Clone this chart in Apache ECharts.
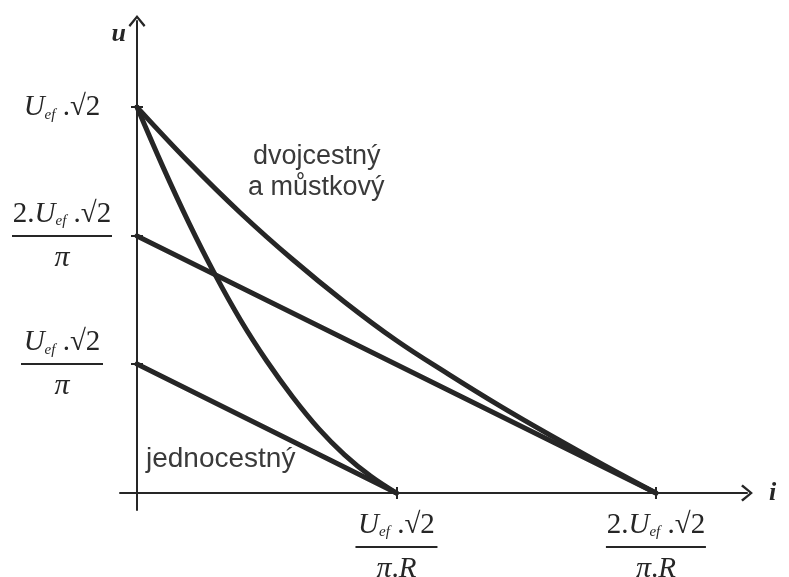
<!DOCTYPE html>
<html><head><meta charset="utf-8">
<script src="https://cdn.jsdelivr.net/npm/echarts@6/dist/echarts.min.js"></script>
<style>html,body{margin:0;padding:0;background:#fff}#c{width:789px;height:577px}</style>
</head><body><div id="c"></div>
<script>
// tick positions (in units of U_ef*sqrt2 and U_ef*sqrt2/(pi*R), as drawn)
const yTickValues = [1, 0.666, 0.334];
const yTickLabels = [
  '{i|U}{s|ef}{r| .√2}',
  '{r|2.}{i|U}{s|ef}{r| .√2}\n{barA| }\n{p|π}',
  '{i|U}{s|ef}{r| .√2}\n{barB| }\n{p|π}'
];
const xTickValues = [1, 2];
const xTickLabels = [
  '{i|U}{s|ef}{r| .√2}\n{barB| }\n{p|π}{r|.}{i|R}',
  '{r|2.}{i|U}{s|ef}{r| .√2}\n{barA| }\n{p|π}{r|.}{i|R}'
];
// single-phase (jednocestný): straight load line and curve
const halfLine = [[0, 0.334], [1, 0]];
const halfCurveX = [0, 0.1, 0.2, 0.3, 0.4, 0.5, 0.6, 0.7, 0.8, 0.9, 1.0];
const halfCurveY = [1, 0.845, 0.700, 0.567, 0.447, 0.342, 0.249, 0.167, 0.099, 0.044, 0];
// full-wave / bridge (dvojcestný a můstkový)
const fullLine = [[0, 0.666], [2, 0]];
const fullCurveX = [0, 0.2, 0.4, 0.6, 0.8, 1.0, 1.2, 1.4, 1.6, 1.8, 2.0];
const fullCurveY = [1, 0.857, 0.725, 0.605, 0.495, 0.395, 0.308, 0.225, 0.147, 0.072, 0];

const INK = '#262626';
const serif = 'Liberation Serif';
const rich = {
  i: {fontFamily: serif, fontStyle: 'italic', fontSize: 29, lineHeight: 30, color: INK},
  r: {fontFamily: serif, fontSize: 29, lineHeight: 30, color: INK},
  p: {fontFamily: serif, fontStyle: 'italic', fontSize: 30, lineHeight: 30, color: INK},
  s: {fontFamily: serif, fontStyle: 'italic', fontSize: 15, lineHeight: 8, verticalAlign: 'bottom', color: INK},
  barA: {width: 100, height: 2, lineHeight: 14, backgroundColor: INK, fontSize: 2},
  barB: {width: 82, height: 2, lineHeight: 14, backgroundColor: INK, fontSize: 2}
};
const arrow = 'path://M10,0 L20,12 L18,14 L10,4 L2,14 L0,12 Z';
const axisLineStyle = {color: INK, width: 2};
const hidden = {show: false};

const chart = echarts.init(document.getElementById('c'));
chart.setOption({
  backgroundColor: '#ffffff',
  animation: false,
  grid: {left: 120, right: 42, top: 21, bottom: 67, containLabel: false, outerBoundsMode: 'none'},
  xAxis: [{
    type: 'value', min: -0.0655, max: 2.351, position: 'bottom',
    splitLine: hidden,
    axisLine: {onZero: true, lineStyle: axisLineStyle, symbol: ['none', arrow], symbolSize: [17, 12]},
    axisTick: {customValues: xTickValues, length: 6, lineStyle: axisLineStyle},
    axisLabel: {
      customValues: xTickValues, margin: 0, align: 'center', verticalAlign: 'top',
      formatter: v => xTickLabels[xTickValues.indexOf(v)] || '', rich: rich
    },
    name: 'i', nameLocation: 'end', nameGap: 22,
    nameTextStyle: {fontFamily: serif, fontStyle: 'italic', fontWeight: 'bold', fontSize: 26, color: INK, verticalAlign: 'middle'}
  }, {
    type: 'value', min: -0.0655, max: 2.351, position: 'top',
    splitLine: hidden, axisLabel: hidden,
    axisLine: {onZero: true, lineStyle: {color: INK, width: 0, opacity: 0}},
    axisTick: {customValues: xTickValues, length: 6, lineStyle: axisLineStyle}
  }],
  yAxis: [{
    type: 'value', min: -0.044, max: 1.223, position: 'left',
    splitLine: hidden,
    axisLine: {onZero: true, lineStyle: axisLineStyle, symbol: ['none', arrow], symbolSize: [17, 12]},
    axisTick: {customValues: yTickValues, length: 6, lineStyle: axisLineStyle},
    axisLabel: {
      customValues: yTickValues, margin: 58, align: 'center', verticalAlign: 'middle',
      formatter: v => yTickLabels[yTickValues.indexOf(v)] || '', rich: rich
    },
    name: 'u', nameLocation: 'end', nameGap: -13,
    nameTextStyle: {fontFamily: serif, fontStyle: 'italic', fontWeight: 'bold', fontSize: 26, color: INK, align: 'right', verticalAlign: 'middle', padding: [0, 11, 0, 0]}
  }, {
    type: 'value', min: -0.044, max: 1.223, position: 'right',
    splitLine: hidden, axisLabel: hidden,
    axisLine: {onZero: true, lineStyle: {color: INK, width: 0, opacity: 0}},
    axisTick: {customValues: yTickValues, length: 6, lineStyle: axisLineStyle}
  }],
  series: [
    {type: 'line', data: halfLine},
    {type: 'line', smooth: 0.4, data: halfCurveX.map((x, k) => [x, halfCurveY[k]])},
    {type: 'line', data: fullLine},
    {type: 'line', smooth: 0.4, data: fullCurveX.map((x, k) => [x, fullCurveY[k]])}
  ].map(s => Object.assign(s, {
    xAxisIndex: 0, yAxisIndex: 0,
    showSymbol: false, silent: true,
    lineStyle: {color: INK, width: 5, cap: 'round', join: 'round'}
  })),
  graphic: [
    {type: 'text', left: 253, top: 143, style: {text: 'dvojcestný', font: '27px "Liberation Sans"', fill: '#3a3a3a'}},
    {type: 'text', left: 248, top: 174, style: {text: 'a můstkový', font: '27px "Liberation Sans"', fill: '#3a3a3a'}},
    {type: 'text', left: 146, top: 445, style: {text: 'jednocestný', font: '28px "Liberation Sans"', fill: '#3a3a3a'}}
  ]
});
</script>
</body></html>
